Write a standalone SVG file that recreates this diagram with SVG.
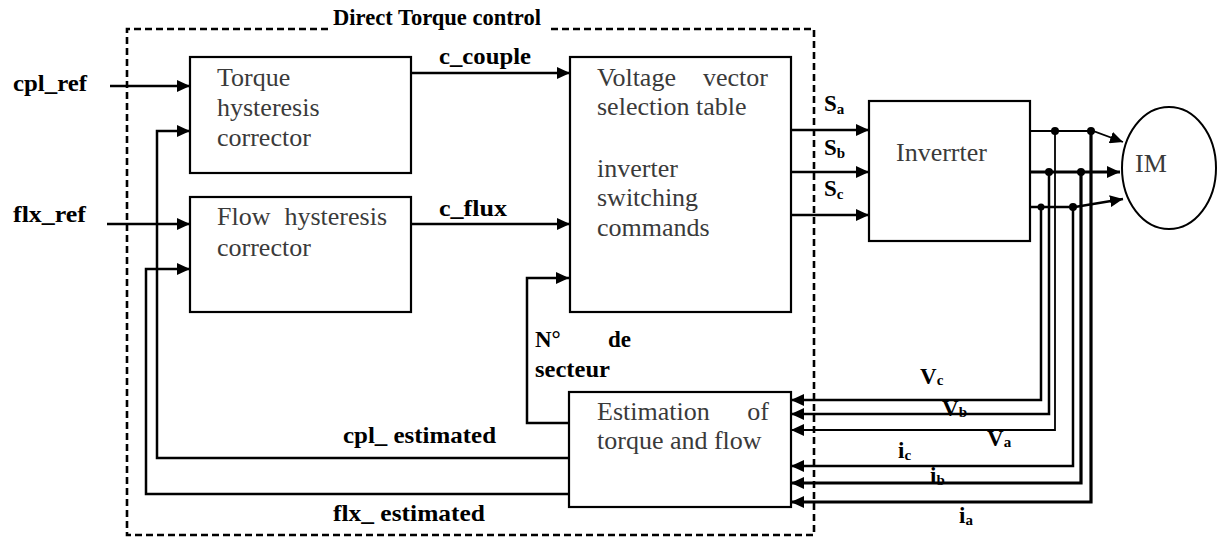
<svg xmlns="http://www.w3.org/2000/svg" width="1217" height="539" viewBox="0 0 1217 539">
<style>
.box{fill:#fff;stroke:#000;stroke-width:2.2}
.bt{font-family:"Liberation Serif",serif;font-size:26px;fill:#3a3a3a}
.lb{font-family:"Liberation Serif",serif;font-weight:bold;font-size:23px;fill:#000}
.sub{font-size:15px}
.ln{fill:none;stroke:#000;stroke-width:2.5}
.thin{stroke-width:1.8}
.thick{stroke-width:3.2}
.dash{fill:none;stroke:#000;stroke-width:2.6;stroke-dasharray:7 4}
</style>
<defs>
<marker id="ar" markerUnits="userSpaceOnUse" markerWidth="14" markerHeight="12" refX="13" refY="6" orient="auto">
<path d="M0,0 L13,6 L0,12 z" fill="#000"/>
</marker>
</defs>

<g id="frame">
<path class="dash" d="M328,29 H127 V535 H814 V29 H547"/>
<text class="lb" x="333" y="25" textLength="208" lengthAdjust="spacingAndGlyphs">Direct Torque control</text>
</g>

<g id="torque">
<rect class="box" x="190" y="57" width="221" height="116"/>
<text class="bt" x="217" y="86">Torque</text>
<text class="bt" x="217" y="116">hysteresis</text>
<text class="bt" x="217" y="146">corrector</text>
</g>

<g id="flow">
<rect class="box" x="190" y="197" width="221" height="115"/>
<text class="bt" x="217" y="225">Flow</text>
<text class="bt" x="387" y="225" text-anchor="end">hysteresis</text>
<text class="bt" x="217" y="256">corrector</text>
</g>

<g id="voltage">
<rect class="box" x="570" y="57" width="221" height="255"/>
<text class="bt" x="597" y="86">Voltage</text>
<text class="bt" x="768" y="86" text-anchor="end">vector</text>
<text class="bt" x="597" y="115">selection table</text>
<text class="bt" x="597" y="177">inverter</text>
<text class="bt" x="597" y="206">switching</text>
<text class="bt" x="597" y="236">commands</text>
</g>

<g id="estimation">
<rect class="box" x="569" y="392" width="222" height="115"/>
<text class="bt" x="597" y="420">Estimation</text>
<text class="bt" x="769" y="420" text-anchor="end">of</text>
<text class="bt" x="597" y="449">torque and flow</text>
</g>

<g id="inverter">
<rect class="box" x="869" y="101" width="161" height="140"/>
<text class="bt" x="896" y="161">Inverrter</text>
</g>

<g id="im">
<ellipse cx="1169" cy="168" rx="47" ry="61" fill="#fff" stroke="#000" stroke-width="2"/>
<text class="bt" x="1135" y="172">IM</text>
</g>

<g id="connectors">
<path class="ln" d="M110,86 H190" marker-end="url(#ar)"/>
<path class="ln" d="M107,224 H190" marker-end="url(#ar)"/>
<path class="ln" d="M411,73 H570" marker-end="url(#ar)"/>
<path class="ln" d="M411,224 H570" marker-end="url(#ar)"/>
<path class="ln" d="M569,458 H157 V131 H190" marker-end="url(#ar)"/>
<path class="ln" d="M569,494 H146 V269 H190" marker-end="url(#ar)"/>
<path class="ln" d="M569,423 H527 V278 H569" marker-end="url(#ar)"/>
<path class="ln" d="M791,130 H869" marker-end="url(#ar)"/>
<path class="ln" d="M791,172 H869" marker-end="url(#ar)"/>
<path class="ln" d="M791,215 H869" marker-end="url(#ar)"/>
<path class="ln thin" d="M1030,131 H1093 L1123,142" marker-end="url(#ar)"/>
<path class="ln thick" d="M1030,172 H1120" marker-end="url(#ar)"/>
<path class="ln" d="M1030,207 H1075 L1123,199" marker-end="url(#ar)"/>
<path class="ln" d="M1041,207 V400 H791" marker-end="url(#ar)"/>
<path class="ln" d="M1049,172 V414 H791" marker-end="url(#ar)"/>
<path class="ln thin" d="M1055,131 V430 H791" marker-end="url(#ar)"/>
<path class="ln" d="M1073,207 V466 H791" marker-end="url(#ar)"/>
<path class="ln thick" d="M1081,172 V483 H791" marker-end="url(#ar)"/>
<path class="ln thick" d="M1091,131 V502 H791" marker-end="url(#ar)"/>
<circle cx="1055" cy="131" r="4"/>
<circle cx="1091" cy="131" r="4"/>
<circle cx="1049" cy="172" r="4"/>
<circle cx="1081" cy="172" r="4"/>
<circle cx="1041" cy="207" r="3.5"/>
<circle cx="1073" cy="207" r="4"/>
</g>

<g id="labels">
<text class="lb" x="13" y="91" textLength="74" lengthAdjust="spacingAndGlyphs">cpl_ref</text>
<text class="lb" x="13" y="222" textLength="73" lengthAdjust="spacingAndGlyphs">flx_ref</text>
<text class="lb" x="439" y="64" textLength="92" lengthAdjust="spacingAndGlyphs">c_couple</text>
<text class="lb" x="439" y="216" textLength="68" lengthAdjust="spacingAndGlyphs">c_flux</text>
<text class="lb" x="824" y="111">S<tspan class="sub" dy="3">a</tspan></text>
<text class="lb" x="824" y="155">S<tspan class="sub" dy="3">b</tspan></text>
<text class="lb" x="824" y="196">S<tspan class="sub" dy="3">c</tspan></text>
<text class="lb" x="535" y="347">N°</text>
<text class="lb" x="608" y="347">de</text>
<text class="lb" x="535" y="377" textLength="75" lengthAdjust="spacingAndGlyphs">secteur</text>
<text class="lb" x="343" y="443" textLength="153" lengthAdjust="spacingAndGlyphs">cpl_ estimated</text>
<text class="lb" x="333" y="521" textLength="152" lengthAdjust="spacingAndGlyphs">flx_ estimated</text>
<text class="lb" x="920" y="384">V<tspan class="sub" dy="1">c</tspan></text>
<text class="lb" x="942" y="416">V<tspan class="sub" dy="1">b</tspan></text>
<text class="lb" x="987" y="446">V<tspan class="sub" dy="1">a</tspan></text>
<text class="lb" x="898" y="458">i<tspan class="sub" dy="2">c</tspan></text>
<text class="lb" x="930" y="483">i<tspan class="sub" dy="2">b</tspan></text>
<text class="lb" x="959" y="523">i<tspan class="sub" dy="2">a</tspan></text>
</g>
</svg>
